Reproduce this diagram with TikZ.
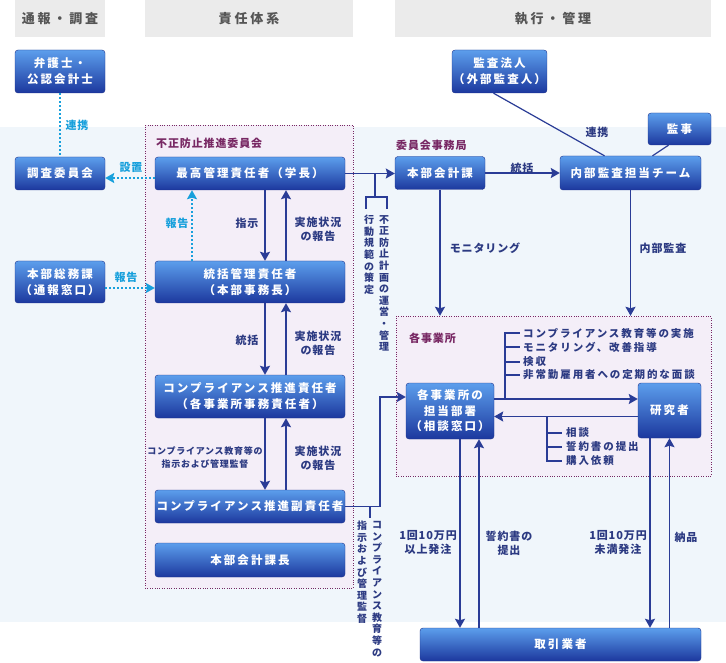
\documentclass[tikz,border=0pt]{standalone}
\usepackage{fontspec}
\setmainfont{Noto Sans CJK JP}
\newfontfamily\boxfont{Noto Sans CJK JP}[LetterSpace=18]
\newfontfamily\headfont{Noto Sans CJK JP}[LetterSpace=22]
\newfontfamily\lblfont{Noto Sans CJK JP}[LetterSpace=8]
\usepackage{tikz}
\usetikzlibrary{arrows.meta, calc}
\usepackage{xcolor}

\definecolor{boxtop}{RGB}{92,158,236}
\definecolor{boxbot}{RGB}{28,56,158}
\definecolor{boxline}{RGB}{30,50,140}
\definecolor{navy}{RGB}{42,60,150}
\definecolor{lblnavy}{RGB}{44,58,130}
\definecolor{skyblue}{RGB}{24,160,220}
\definecolor{plum}{RGB}{120,40,100}
\definecolor{lavender}{RGB}{244,238,248}
\definecolor{bandblue}{RGB}{240,246,251}
\definecolor{headgray}{RGB}{235,235,235}
\definecolor{headtext}{RGB}{85,85,85}

\begin{document}
\begin{tikzpicture}[
    x=1pt, y=-1pt,
    block/.style = {rectangle, draw=boxline, top color=boxtop, bottom color=boxbot, rounded corners=3pt, align=center, text=white, font=\boxfont\bfseries\fontsize{11.5}{16}\selectfont, inner sep=1pt},
    headblock/.style = {rectangle, fill=headgray, text=headtext, font=\headfont\bfseries\fontsize{13}{15}\selectfont, minimum height=37pt, inner sep=0pt},
    areabox/.style = {rectangle, draw=plum, dotted, fill=lavender, inner sep=0pt},
    areatitle/.style = {text=plum, anchor=west, font=\lblfont\bfseries\fontsize{11}{13}\selectfont, inner sep=0pt},
    lbl/.style = {text=lblnavy, align=center, font=\lblfont\bfseries\fontsize{11}{14}\selectfont, inner sep=0pt},
    skylbl/.style = {text=skyblue, align=center, font=\lblfont\bfseries\fontsize{11}{14}\selectfont, inner sep=0pt},
    smalllbl/.style = {text=lblnavy, align=center, font=\lblfont\bfseries\fontsize{9}{13}\selectfont, inner sep=0pt},
    listlbl/.style = {text=lblnavy, anchor=west, font=\boxfont\bfseries\fontsize{10.5}{12}\selectfont, inner sep=0pt},
    vtext/.style = {text=lblnavy, anchor=north, align=center, font=\bfseries\fontsize{10}{11.6}\selectfont, inner sep=0pt},
    arrow/.style = {draw=navy, line width=1.8pt, -{Stealth[length=9pt, width=10pt, inset=1.5pt]}},
    wire/.style = {draw=navy, line width=1.8pt},
    link/.style = {draw=navy, line width=1.2pt},
    dotarrow/.style = {draw=skyblue, line width=2pt, dash pattern=on 2pt off 2pt, -{Stealth[length=9pt, width=10pt, inset=1.5pt]}},
    dotline/.style = {draw=skyblue, line width=2pt, dash pattern=on 2pt off 2pt}
]

\useasboundingbox[fill=white] (0,0) rectangle (726,663);
\fill[bandblue] (0,127) rectangle (726,622);

% Headers
\node (h1) [headblock, minimum width=90pt] at (60, 18.5) {通報・調査};
\node (h2) [headblock, minimum width=208pt] at (249, 18.5) {責任体系};
\node (h3) [headblock, minimum width=316pt] at (553, 18.5) {執行・管理};

% Areas
\node (f1) [areabox, minimum width=208pt, minimum height=463pt] at (249, 356.5) {};
\node (f2) [areabox, minimum width=315pt, minimum height=160pt] at (553.5, 396) {};
\node (t1) [areatitle] at (156, 143) {不正防止推進委員会};
\node (t2) [areatitle] at (396, 145) {委員会事務局};
\node (t3) [areatitle] at (409, 338) {各事業所};

% Column 1
\node (b1) [block, minimum width=90pt, minimum height=43pt] at (60, 71.5) {弁護士・\\公認会計士};
\node (b2) [block, minimum width=90pt, minimum height=33pt] at (60, 173.5) {調査委員会};
\node (b3) [block, minimum width=90pt, minimum height=42pt] at (60, 282) {本部総務課\\（通報窓口）};

% Column 2
\node (b4) [block, minimum width=190pt, minimum height=33pt] at (250, 173.5) {最高管理責任者（学長）};
\node (b5) [block, minimum width=190pt, minimum height=42pt] at (250, 282) {統括管理責任者\\（本部事務長）};
\node (b6) [block, minimum width=190pt, minimum height=43pt] at (250, 396.5) {コンプライアンス推進責任者\\（各事業所事務責任者）};
\node (b7) [block, minimum width=190pt, minimum height=33pt] at (250, 506.5) {コンプライアンス推進副責任者};
\node (b8) [block, minimum width=190pt, minimum height=34pt] at (250, 560) {本部会計課長};

% Column 3
\node (b12) [block, minimum width=89pt, minimum height=43pt] at (499.5, 71.5) {監査法人\\（外部監査人）};
\node (b9) [block, minimum width=90pt, minimum height=33pt] at (440, 173) {本部会計課};
\node (b10) [block, minimum width=141pt, minimum height=34pt] at (630.5, 173) {内部監査担当チーム};
\node (b11) [block, minimum width=63pt, minimum height=32pt] at (679.5, 129) {監事};
\node (b13) [block, minimum width=88pt, minimum height=56pt, font=\boxfont\bfseries\fontsize{11.5}{15.5}\selectfont] at (450, 411) {各事業所の\\担当部署\\（相談窓口）};
\node (b14) [block, minimum width=63pt, minimum height=55pt] at (669.5, 410.5) {研究者};
\node (b15) [block, minimum width=281pt, minimum height=33pt] at (560.5, 644.5) {取引業者};

% Dotted links
\draw [dotline] (b1) -- (b2);
\node (l1) [skylbl] at (77, 125) {連携};
\draw [dotarrow] ([yshift=-4.5pt]b4.west) -- ([yshift=-4.5pt]b2.east);
\node (l2) [skylbl] at (131, 167) {設置};
\draw [dotarrow] ([xshift=-58pt]b5.north) -- ([xshift=-58pt]b4.south);
\node (l3) [skylbl] at (177, 223) {報告};
\draw [dotarrow] ([yshift=-6pt]b3.east) -- ([yshift=-6pt]b5.west);
\node (l4) [skylbl] at (126, 277) {報告};

% Chain of responsibility
\draw [arrow] ([xshift=15pt]b4.south) -- ([xshift=15pt]b5.north);
\draw [arrow] ([xshift=36pt]b5.north) -- ([xshift=36pt]b4.south);
\draw [arrow] ([xshift=15pt]b5.south) -- ([xshift=15pt]b6.north);
\draw [arrow] ([xshift=36pt]b6.north) -- ([xshift=36pt]b5.south);
\draw [arrow] ([xshift=15pt]b6.south) -- ([xshift=15pt]b7.north);
\draw [arrow] ([xshift=36pt]b7.north) -- ([xshift=36pt]b6.south);
\node (l5) [lbl] at (247, 223) {指示};
\node (l6) [lbl] at (318, 229) {実施状況\\の報告};
\node (l7) [lbl] at (247, 340) {統括};
\node (l8) [lbl] at (318, 343) {実施状況\\の報告};
\node (l9) [smalllbl] at (205, 458) {コンプライアンス教育等の\\指示および管理監督};
\node (l10) [lbl] at (318, 458) {実施状況\\の報告};

% Secretariat and audit
\draw [arrow] (b4.east) -- (b4.east -| b9.west);
\coordinate (k1) at (375, 197);
\coordinate (k2) at (366, 209);
\coordinate (k3) at (387, 209);
\draw [wire] (k1 |- b4.east) -- (k1);
\draw [wire] (k2) |- (k1) -| (k3);
\node (v1) [vtext] at (369, 215) {行\\動\\規\\範\\の\\策\\定};
\node (v2) [vtext] at (384, 215) {不\\正\\防\\止\\計\\画\\の\\運\\営\\・\\管\\理};

\draw [arrow] (b9.east) -- (b9.east -| b10.west);
\node (l11) [lbl] at (522, 168) {統括};
\draw [link] ([xshift=-6pt]b12.south) -- ([xshift=-26pt]b10.north);
\node (l12) [lbl] at (597, 132) {連携};
\draw [link] ([xshift=-11pt]b11.south) -- ([xshift=22pt]b10.north);

\draw [arrow] (b9) -- (b9 |- f2.north);
\node (l13) [lbl] at (485, 248) {モニタリング};
\draw [arrow] (b10) -- (b10 |- f2.north);
\node (l14) [lbl] at (663, 248) {内部監査};

% To the offices
\draw [arrow] (b7.east) -| ([xshift=-26pt, yshift=14pt]b13.west) -- ([yshift=14pt]b13.west);
\draw [wire] ([xshift=25pt]b7.east) -- ++(0, 11);
\node (v3) [vtext] at (377, 521) {コ\\ン\\プ\\ラ\\イ\\ア\\ン\\ス\\教\\育\\等\\の};
\node (v4) [vtext] at (362, 521) {指\\示\\お\\よ\\び\\管\\理\\監\\督};

% Offices and researchers
\draw [arrow] ([yshift=12pt]b13.east) -- ([yshift=12pt]b13.east -| b14.west);
\draw [arrow] ([yshift=-6pt]b14.west) -- ([yshift=-6pt]b14.west -| b13.east);
\coordinate (m1) at (505, 333);
\coordinate (m2) at (547, 461);
\draw [wire] ([yshift=12pt]b13.east -| m1) -- (m1) -- ++(15, 0);
\draw [wire] (505, 347) -- ++(15, 0);
\draw [wire] (505, 362) -- ++(15, 0);
\draw [wire] (505, 375) -- ++(15, 0);
\node (r1) [listlbl] at (523, 333) {コンプライアンス教育等の実施};
\node (r2) [listlbl] at (523, 347) {モニタリング、改善指導};
\node (r3) [listlbl] at (523, 362) {検収};
\node (r4) [listlbl] at (523, 375) {非常勤雇用者への定期的な面談};
\draw [wire] ([yshift=-6pt]b14.west -| m2) -- (m2) -- ++(15, 0);
\draw [wire] (547, 433) -- ++(15, 0);
\draw [wire] (547, 447) -- ++(15, 0);
\node (r5) [listlbl] at (566, 433) {相談};
\node (r6) [listlbl] at (566, 447) {誓約書の提出};
\node (r7) [listlbl] at (566, 461) {購入依頼};

% Suppliers
\draw [arrow] ([xshift=10pt]b13.south) -- ([xshift=10pt]b13.south |- b15.north);
\draw [arrow] ([xshift=29pt]b13.south |- b15.north) -- ([xshift=29pt]b13.south);
\draw [arrow] ([xshift=-19.5pt]b14.south) -- ([xshift=-19.5pt]b14.south |- b15.north);
\draw [arrow] (b14.south |- b15.north) -- (b14.south);
\node (l15) [lbl] at (428, 543) {1回10万円\\以上発注};
\node (l16) [lbl] at (509, 543) {誓約書の\\提出};
\node (l17) [lbl] at (618, 543) {1回10万円\\未満発注};
\node (l18) [lbl] at (686, 537) {納品};

\end{tikzpicture}
\end{document}
